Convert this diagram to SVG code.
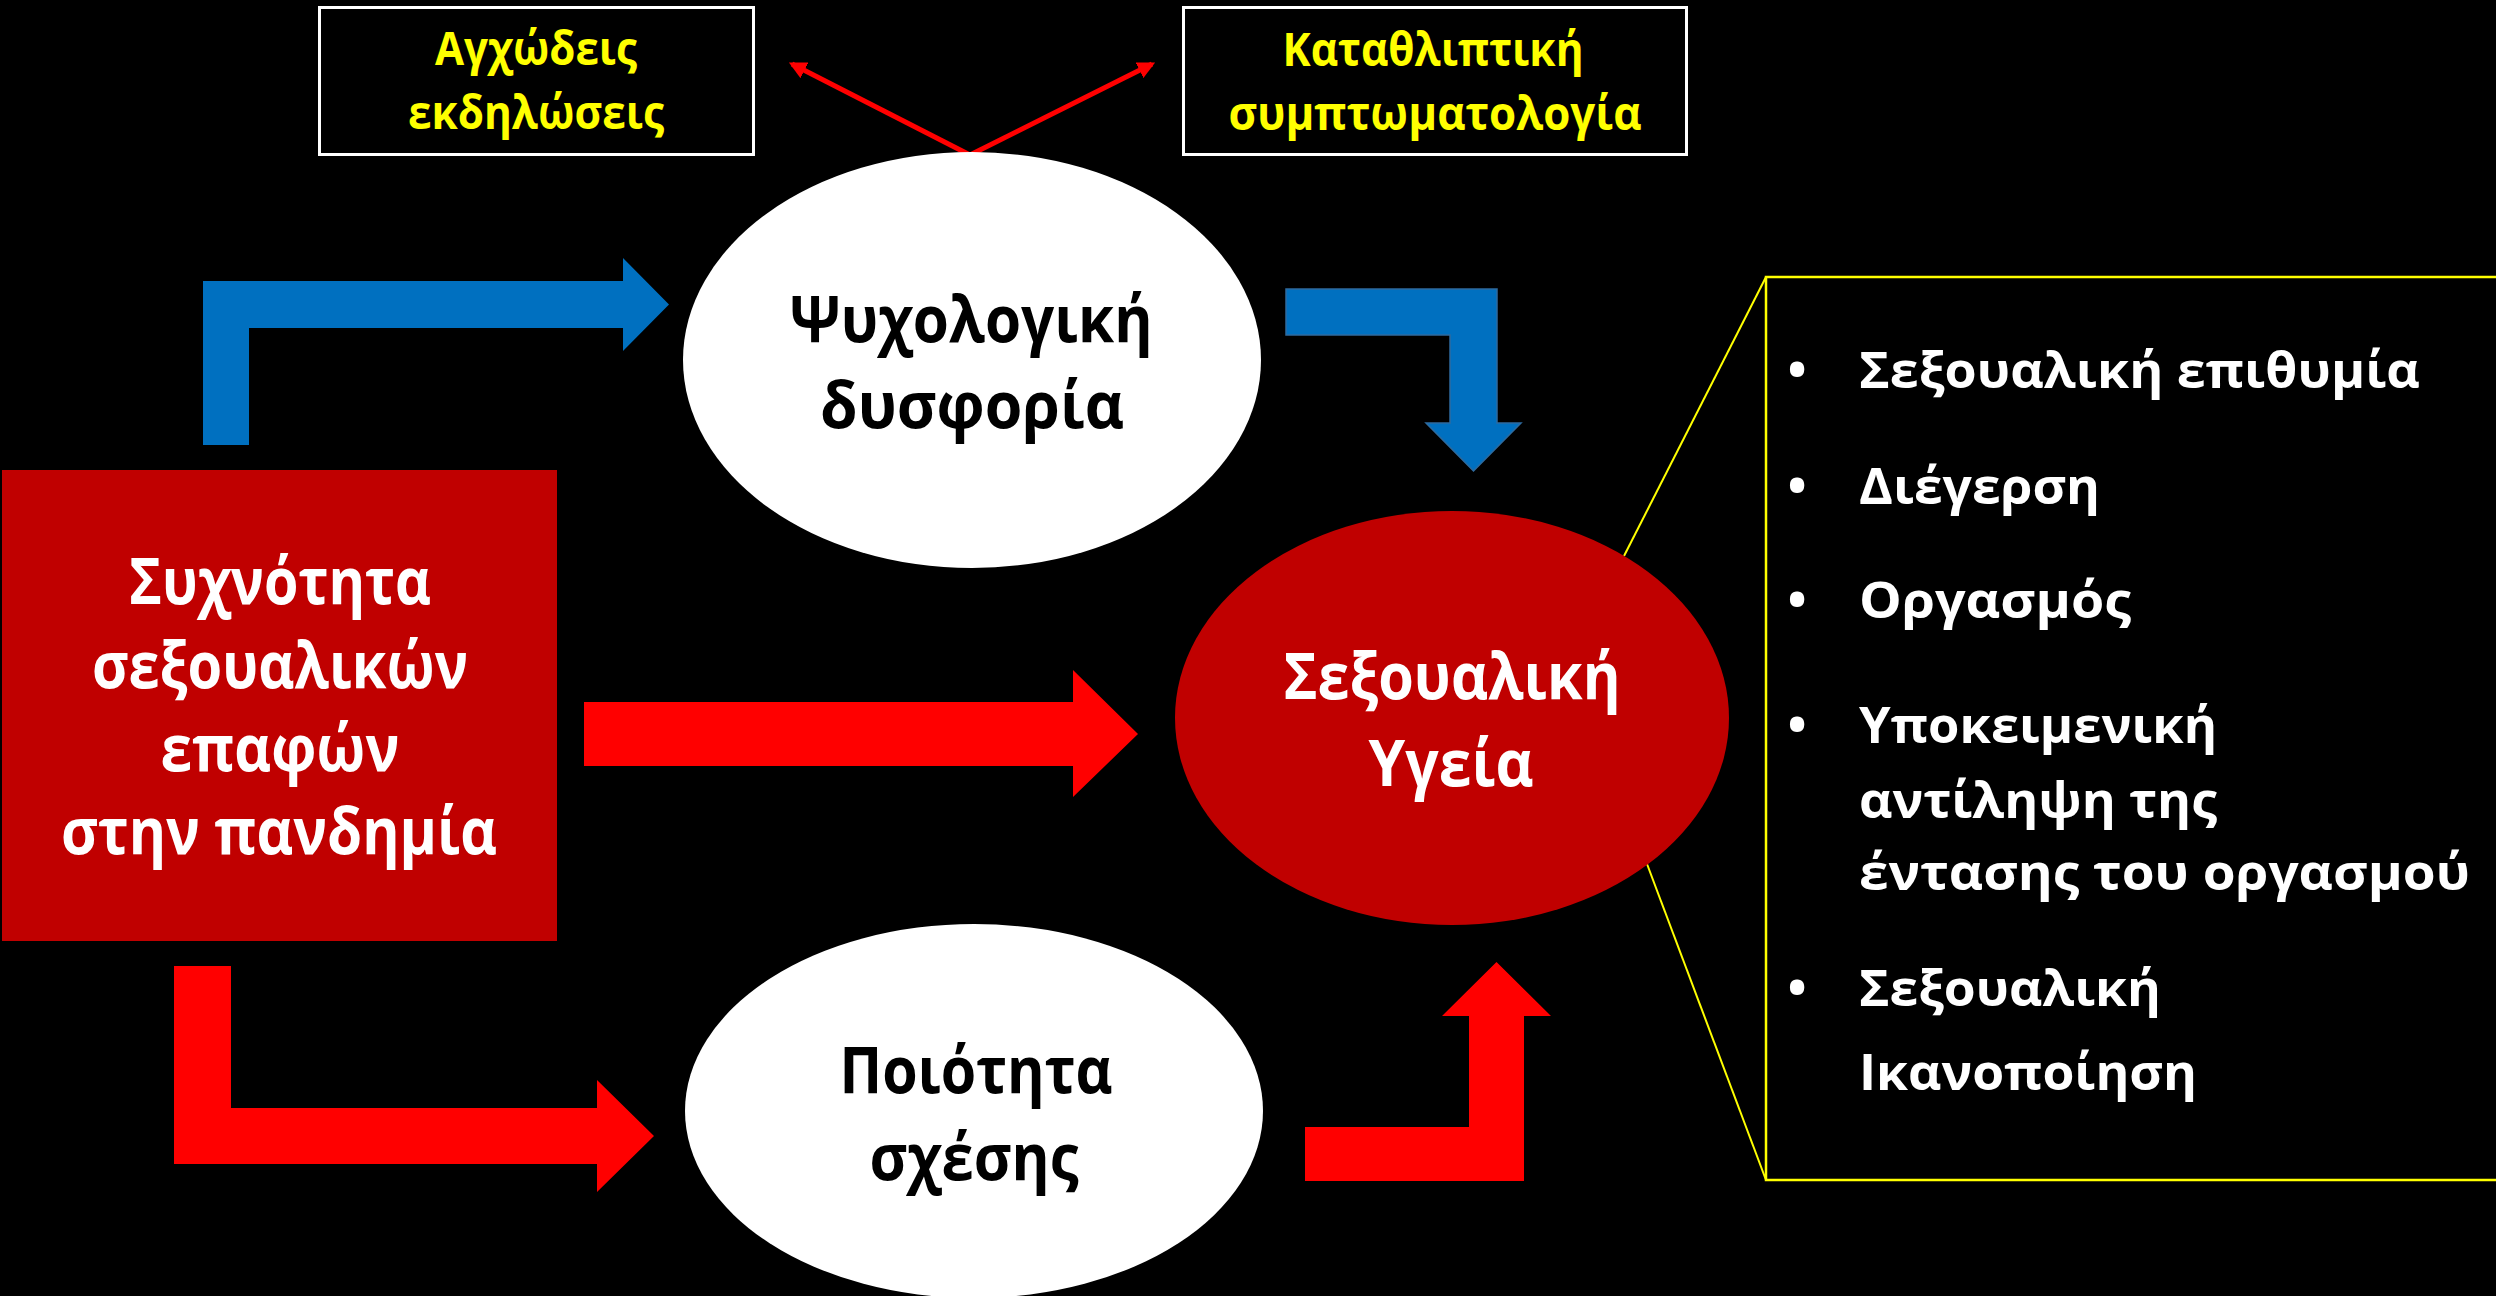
<svg xmlns="http://www.w3.org/2000/svg" width="2496" height="1296" viewBox="0 0 2496 1296">
  <defs>
    <style>
      .t { font-family: "Open Sans", "Noto Sans", "DejaVu Sans", sans-serif; font-weight: bold; }
      .big { font-size: 64px; }
      .small { font-size: 46px; fill: #FFFF00; }
      .list { font-size: 51px; fill: #FFFFFF; }
      .w { fill: #FFFFFF; }
      .k { fill: #000000; }
      .blue { fill: #0070C0; }
      .red { fill: #FF0000; }
    </style>
    <marker id="ah" viewBox="0 0 10 10" refX="8" refY="5" markerWidth="3.5" markerHeight="3.5" orient="auto" markerUnits="strokeWidth">
      <path d="M0,0 L10,5 L0,10 z" fill="#FF0000"/>
    </marker>
  </defs>
  <rect x="0" y="0" width="2496" height="1296" fill="#000000"/>

  <g id="callout">
    <line x1="1766" y1="277" x2="1624" y2="556" stroke="#FFFF00" stroke-width="2"/>
    <line x1="1766" y1="1180" x2="1647" y2="864" stroke="#FFFF00" stroke-width="2"/>
    <rect x="1766" y="277" width="740" height="903" fill="none" stroke="#FFFF00" stroke-width="2.5"/>
  </g>

  <g id="connectors">
    <polygon class="blue" points="203,445 203,281 623,281 623,258 669,304.5 623,351 623,328 249,328 249,445"/>
    <polygon class="blue" stroke="#2E6A9E" stroke-width="1.5" points="1286,289 1497,289 1497,423 1521,423 1473.5,471 1426,423 1450,423 1450,335 1286,335"/>
    <polygon class="red" points="584,702 1073,702 1073,670 1138,734 1073,797 1073,766 584,766"/>
    <polygon class="red" points="174,966 231,966 231,1108 597,1108 597,1080 654,1136 597,1192 597,1164 174,1164"/>
    <polygon class="red" points="1305,1127 1469,1127 1469,1016 1442,1016 1496.5,962 1551,1016 1524,1016 1524,1181 1305,1181"/>
    <line x1="970" y1="155" x2="792" y2="64" stroke="#FF0000" stroke-width="5" marker-end="url(#ah)"/>
    <line x1="970" y1="155" x2="1152" y2="64" stroke="#FF0000" stroke-width="5" marker-end="url(#ah)"/>
  </g>

  <g id="anxiety">
    <rect x="319.5" y="7.5" width="434" height="147" fill="#000000" stroke="#FFFFFF" stroke-width="3"/>
    <text class="t small" x="536" y="65" text-anchor="middle" textLength="202" lengthAdjust="spacingAndGlyphs">Αγχώδεις</text>
    <text class="t small" x="536" y="129" text-anchor="middle" textLength="256" lengthAdjust="spacingAndGlyphs">εκδηλώσεις</text>
  </g>

  <g id="depression">
    <rect x="1183.5" y="7.5" width="503" height="147" fill="#000000" stroke="#FFFFFF" stroke-width="3"/>
    <text class="t small" x="1433" y="66" text-anchor="middle" textLength="301" lengthAdjust="spacingAndGlyphs">Καταθλιπτική</text>
    <text class="t small" x="1435" y="130" text-anchor="middle" textLength="413" lengthAdjust="spacingAndGlyphs">συμπτωματολογία</text>
  </g>

  <g id="frequency">
    <rect x="2" y="470" width="555" height="471" fill="#C00000"/>
    <text class="t big w" x="280" y="604" text-anchor="middle" textLength="302" lengthAdjust="spacingAndGlyphs">Συχνότητα</text>
    <text class="t big w" x="280" y="688" text-anchor="middle" textLength="376" lengthAdjust="spacingAndGlyphs">σεξουαλικών</text>
    <text class="t big w" x="280" y="771" text-anchor="middle" textLength="239" lengthAdjust="spacingAndGlyphs">επαφών</text>
    <text class="t big w" x="279" y="854" text-anchor="middle" textLength="436" lengthAdjust="spacingAndGlyphs">στην πανδημία</text>
  </g>

  <g id="distress">
    <ellipse cx="972" cy="360" rx="289" ry="208" fill="#FFFFFF"/>
    <text class="t big k" x="971" y="342" text-anchor="middle" textLength="363" lengthAdjust="spacingAndGlyphs">Ψυχολογική</text>
    <text class="t big k" x="972" y="428" text-anchor="middle" textLength="304" lengthAdjust="spacingAndGlyphs">δυσφορία</text>
  </g>

  <g id="relationship">
    <ellipse cx="974" cy="1111" rx="289" ry="187" fill="#FFFFFF"/>
    <text class="t big k" x="976" y="1093" text-anchor="middle" textLength="273" lengthAdjust="spacingAndGlyphs">Ποιότητα</text>
    <text class="t big k" x="974" y="1180" text-anchor="middle" textLength="209" lengthAdjust="spacingAndGlyphs">σχέσης</text>
  </g>

  <g id="health">
    <ellipse cx="1452" cy="718" rx="277" ry="207" fill="#C00000"/>
    <text class="t big w" x="1452" y="699" text-anchor="middle" textLength="337" lengthAdjust="spacingAndGlyphs">Σεξουαλική</text>
    <text class="t big w" x="1451" y="786" text-anchor="middle" textLength="165" lengthAdjust="spacingAndGlyphs">Υγεία</text>
  </g>

  <g id="list">
    <text class="t list" x="1797" y="388" text-anchor="middle">•</text>
    <text class="t list" x="1859" y="388" textLength="561" lengthAdjust="spacingAndGlyphs">Σεξουαλική επιθυμία</text>
    <text class="t list" x="1797" y="504" text-anchor="middle">•</text>
    <text class="t list" x="1859" y="504" textLength="241" lengthAdjust="spacingAndGlyphs">Διέγερση</text>
    <text class="t list" x="1797" y="618" text-anchor="middle">•</text>
    <text class="t list" x="1859" y="618" textLength="272" lengthAdjust="spacingAndGlyphs">Οργασμός</text>
    <text class="t list" x="1797" y="743" text-anchor="middle">•</text>
    <text class="t list" x="1859" y="743" textLength="358" lengthAdjust="spacingAndGlyphs">Υποκειμενική</text>
    <text class="t list" x="1859" y="818" textLength="358" lengthAdjust="spacingAndGlyphs">αντίληψη της</text>
    <text class="t list" x="1859" y="890" textLength="611" lengthAdjust="spacingAndGlyphs">έντασης του οργασμού</text>
    <text class="t list" x="1797" y="1006" text-anchor="middle">•</text>
    <text class="t list" x="1859" y="1006" textLength="302" lengthAdjust="spacingAndGlyphs">Σεξουαλική</text>
    <text class="t list" x="1859" y="1090" textLength="338" lengthAdjust="spacingAndGlyphs">Ικανοποίηση</text>
  </g>
</svg>
